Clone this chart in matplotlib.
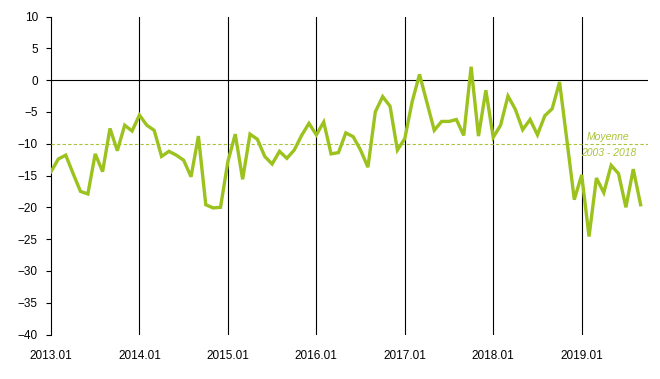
import numpy as np
import matplotlib.pyplot as plt

plt.rcParams['font.family'] = ['Liberation Sans', 'DejaVu Sans']

# monthly values, 2013.01 .. 2019.09
v2013 = [-14.4, -12.4, -11.8, -14.7, -17.5, -17.9, -11.6, -14.4, -7.6, -11.1, -7.1, -8.0]
v2014 = [-5.5, -7.1, -7.9, -12.0, -11.2, -11.8, -12.6, -15.2, -8.8, -19.6, -20.1, -20.0]
v2015 = [-12.8, -8.5, -15.6, -8.5, -9.3, -12.0, -13.2, -11.2, -12.3, -11.0, -8.7, -6.8]
v2016 = [-8.6, -6.6, -11.6, -11.4, -8.3, -8.9, -11.0, -13.7, -5.0, -2.6, -4.1, -11.0]
v2017 = [-9.2, -3.4, 0.9, -3.5, -7.9, -6.5, -6.5, -6.2, -8.7, 2.1, -8.8, -1.6]
v2018 = [-9.0, -7.1, -2.5, -4.6, -7.8, -6.2, -8.6, -5.6, -4.5, -0.3, -9.5, -18.8]
v2019 = [-14.9, -24.6, -15.4, -17.7, -13.4, -14.7, -20.0, -14.0, -19.6]

values = v2013 + v2014 + v2015 + v2016 + v2017 + v2018 + v2019
years = ['2013', '2014', '2015', '2016', '2017', '2018', '2019']
year_labels = [y + '.01' for y in years]
moyenne = -10

green = '#9CC21E'
light_green = '#A9C43C'

fig = plt.figure(figsize=(6.6, 3.79), dpi=100)
ax = fig.add_axes([51/660, 44.5/379, 597/660, 318/379])

x = np.arange(len(values))
ax.plot(x, values, color=green, lw=2.4, zorder=4, solid_joinstyle='miter')
ax.axhline(moyenne, color=light_green, lw=0.8, ls=(0, (3, 2)), zorder=3)
ax.axhline(0, color='black', lw=0.8, zorder=2)

year_ticks = np.arange(0, len(values), 12)
for t in year_ticks[1:]:
    ax.axvline(t, color='black', lw=0.8, zorder=2)

ax.set_xlim(0, 81)
ax.set_ylim(-40, 10)
ax.set_yticks(np.arange(-40, 11, 5))
ax.set_xticks(year_ticks)
ax.set_xticklabels(year_labels)

for s in ['top', 'right', 'bottom']:
    ax.spines[s].set_visible(False)
ax.spines['left'].set_linewidth(0.8)

ax.tick_params(axis='y', length=3.5, width=0.8, pad=6, labelsize=8.5)
ax.tick_params(axis='x', length=0, pad=11, labelsize=8.5)

# label of the average line
ax.text(75.6, moyenne + 0.25, 'Moyenne', ha='center', va='bottom',
        fontsize=7.5, style='italic', color=light_green)
ax.text(75.6, moyenne - 0.6, '2003 - 2018', ha='center', va='top',
        fontsize=7.5, style='italic', color=light_green)

fig.savefig('out.png', dpi=100)
